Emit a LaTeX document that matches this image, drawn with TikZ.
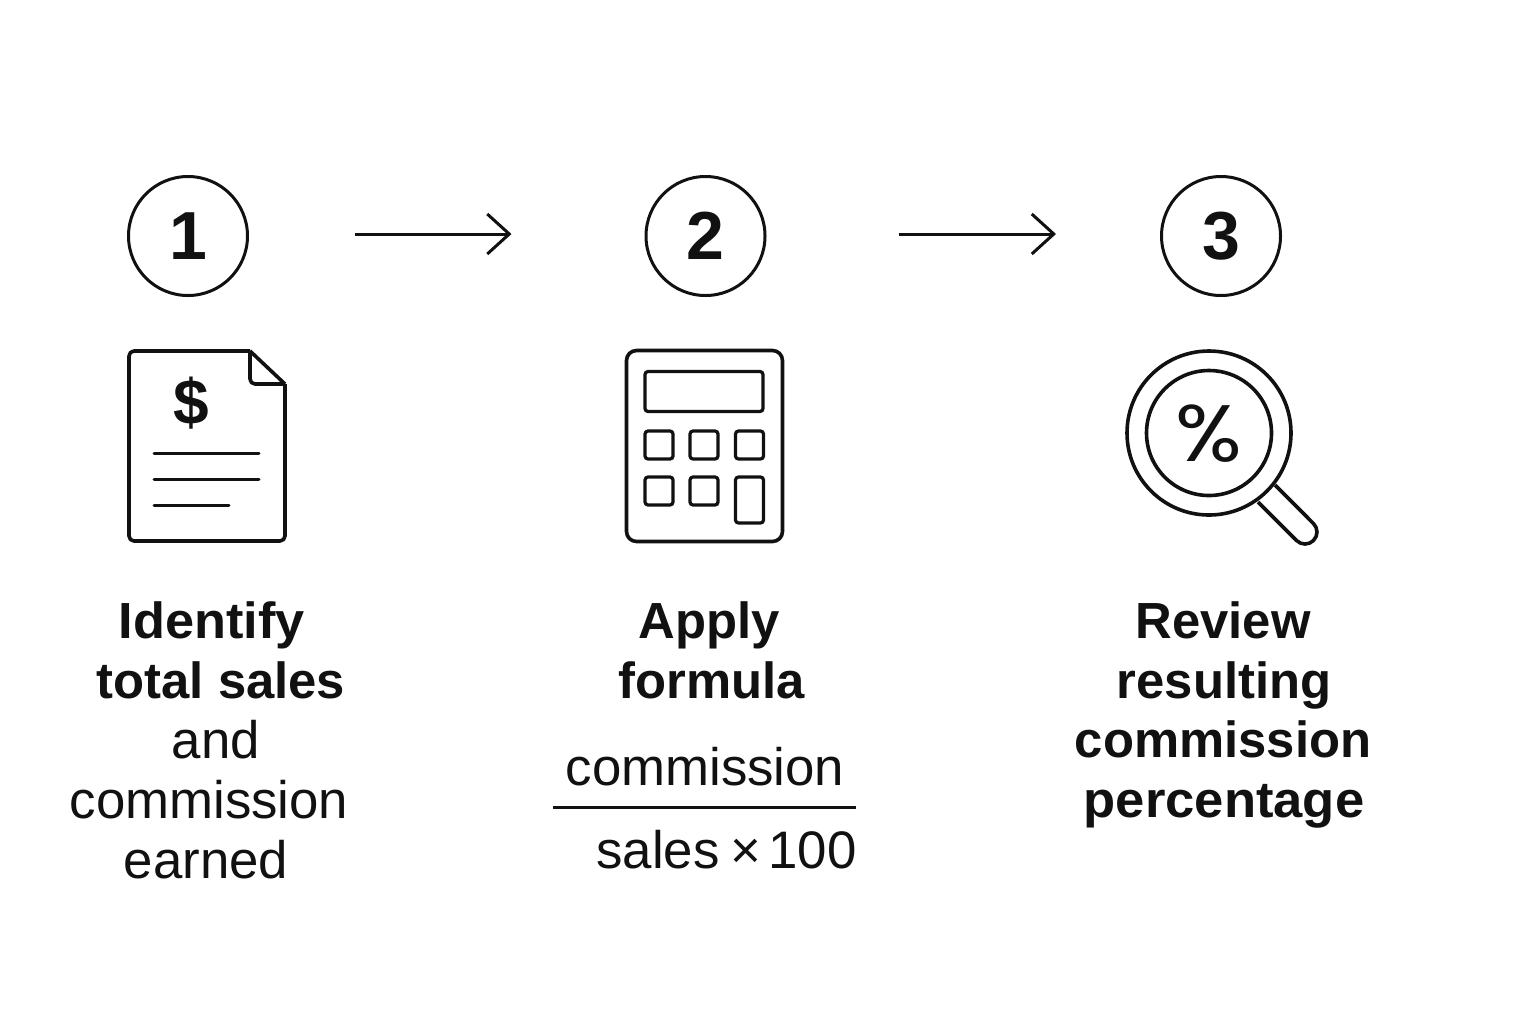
\documentclass[tikz,border=0pt]{standalone}
\usepackage{xcolor}
\usepackage{fontspec}
\setmainfont{Liberation Sans}
\newfontfamily\iconfont{Poppins}
\usetikzlibrary{arrows.meta}
\definecolor{inkblack}{HTML}{111111}

\begin{document}
\begin{tikzpicture}[x=0.5pt,y=-0.5pt,color=inkblack]
\useasboundingbox (0,0) rectangle (1536,1024);

\tikzstyle{stepcircle}=[draw,circle,line width=1.5pt,inner sep=0pt,minimum size=59.5pt,font=\bfseries\fontsize{34}{34}\selectfont]
\tikzstyle{flowarrow}=[line width=1.5pt,-{Straight Barb[length=11pt,width=20pt,line width=1.5pt]}]
\tikzstyle{icon}=[line width=1.8pt,line join=round]
\tikzstyle{textline}=[line width=1.5pt,line cap=round]
\tikzstyle{keybox}=[draw,line width=1.6pt,rounded corners=1.5pt,inner sep=0pt,minimum width=14pt,minimum height=14pt]
\tikzstyle{boldline}=[anchor=base,inner sep=0pt,font=\bfseries\fontsize{25.4}{30}\selectfont]
\tikzstyle{plainline}=[anchor=base,inner sep=0pt,font=\fontsize{26.4}{30}\selectfont]

% The numbered circles.
\node[stepcircle] (S1) at (188,236) {1};
\node[stepcircle] (S2) at (705.5,236) {2};
\node[stepcircle] (S3) at (1221,236) {3};

% The arrows between them.
\draw[flowarrow,shorten <=53pt,shorten >=66.5pt] ([yshift=1pt]S1.east) -- ([yshift=1pt]S2.west);
\draw[flowarrow,shorten <=66pt,shorten >=52pt] ([yshift=1pt]S2.east) -- ([yshift=1pt]S3.west);

% The document icon.
\draw[icon,rounded corners=2.5pt] (250,351) -- (129,351) -- (129,541) -- (285,541) -- (285,384);
\draw[icon] (250,351) -- (285,384);
\draw[icon,rounded corners=2.5pt] (250,351) -- (250,384) -- (285,384);
\node[inner sep=0pt,font=\bfseries\fontsize{32}{32}\selectfont] (dollar) at (191,403) {\$};
\draw[textline] (154,453) -- (259,453);
\draw[textline] (154,479) -- (259,479);
\draw[textline] (154,505) -- (229,505);

% The calculator icon.
\node[draw,icon,rounded corners=5pt,inner sep=0pt,minimum width=78pt,minimum height=95.5pt] (calc) at (704.5,446) {};
\node[keybox,minimum width=59pt,minimum height=20pt] (screen) at (704,391.5) {};
\node[keybox] (K1) at (659,445) {};
\node[keybox] (K2) at (704,445) {};
\node[keybox] (K3) at (749.5,445) {};
\node[keybox] (K4) at (659,491) {};
\node[keybox] (K5) at (704,491) {};
\node[keybox,minimum height=23pt] (K6) at (749.5,500) {};

% The magnifier icon.
\node[draw,circle,icon,inner sep=0pt,minimum size=82pt] (lens) at (1209,433) {};
\node[draw,circle,icon,inner sep=0pt,minimum size=62.5pt] (glass) at (1209,433) {};
\draw[icon] (1258,502) -- (1296.5,540.5) arc[start angle=135,end angle=-45,radius=12] -- (1275,485);
\node[inner sep=0pt,font=\iconfont\fontsize{40}{40}\selectfont,xscale=1.1] (percent) at (1209,434) {\%};

% Step one.
\node[boldline,xscale=1.03] (T1a) at (212,638) {Identify};
\node[boldline] (T1b) at (221,698) {total sales};
\node[plainline] (T1c) at (216,758) {and};
\node[plainline] (T1d) at (209,818) {commission};
\node[plainline] (T1e) at (206,878) {earned};

% Step two.
\node[boldline] (T2a) at (709,638) {Apply};
\node[boldline] (T2b) at (712,698) {formula};
\node[plainline] (F1) at (705,785) {commission};
\node[plainline] (F2) at (726.5,868) {sales\kern 5.5pt×\kern 3.6pt100};
\coordinate (barL) at (553,807);
\coordinate (barR) at (856,807);
\draw[line width=1.5pt] (barL) -- (barR);

% Step three.
\node[boldline] (T3a) at (1223,638) {Review};
\node[boldline] (T3b) at (1224,698) {resulting};
\node[boldline] (T3c) at (1223,757.5) {commission};
\node[boldline,xscale=1.035] (T3d) at (1224,817.5) {percentage};

\end{tikzpicture}
\end{document}
